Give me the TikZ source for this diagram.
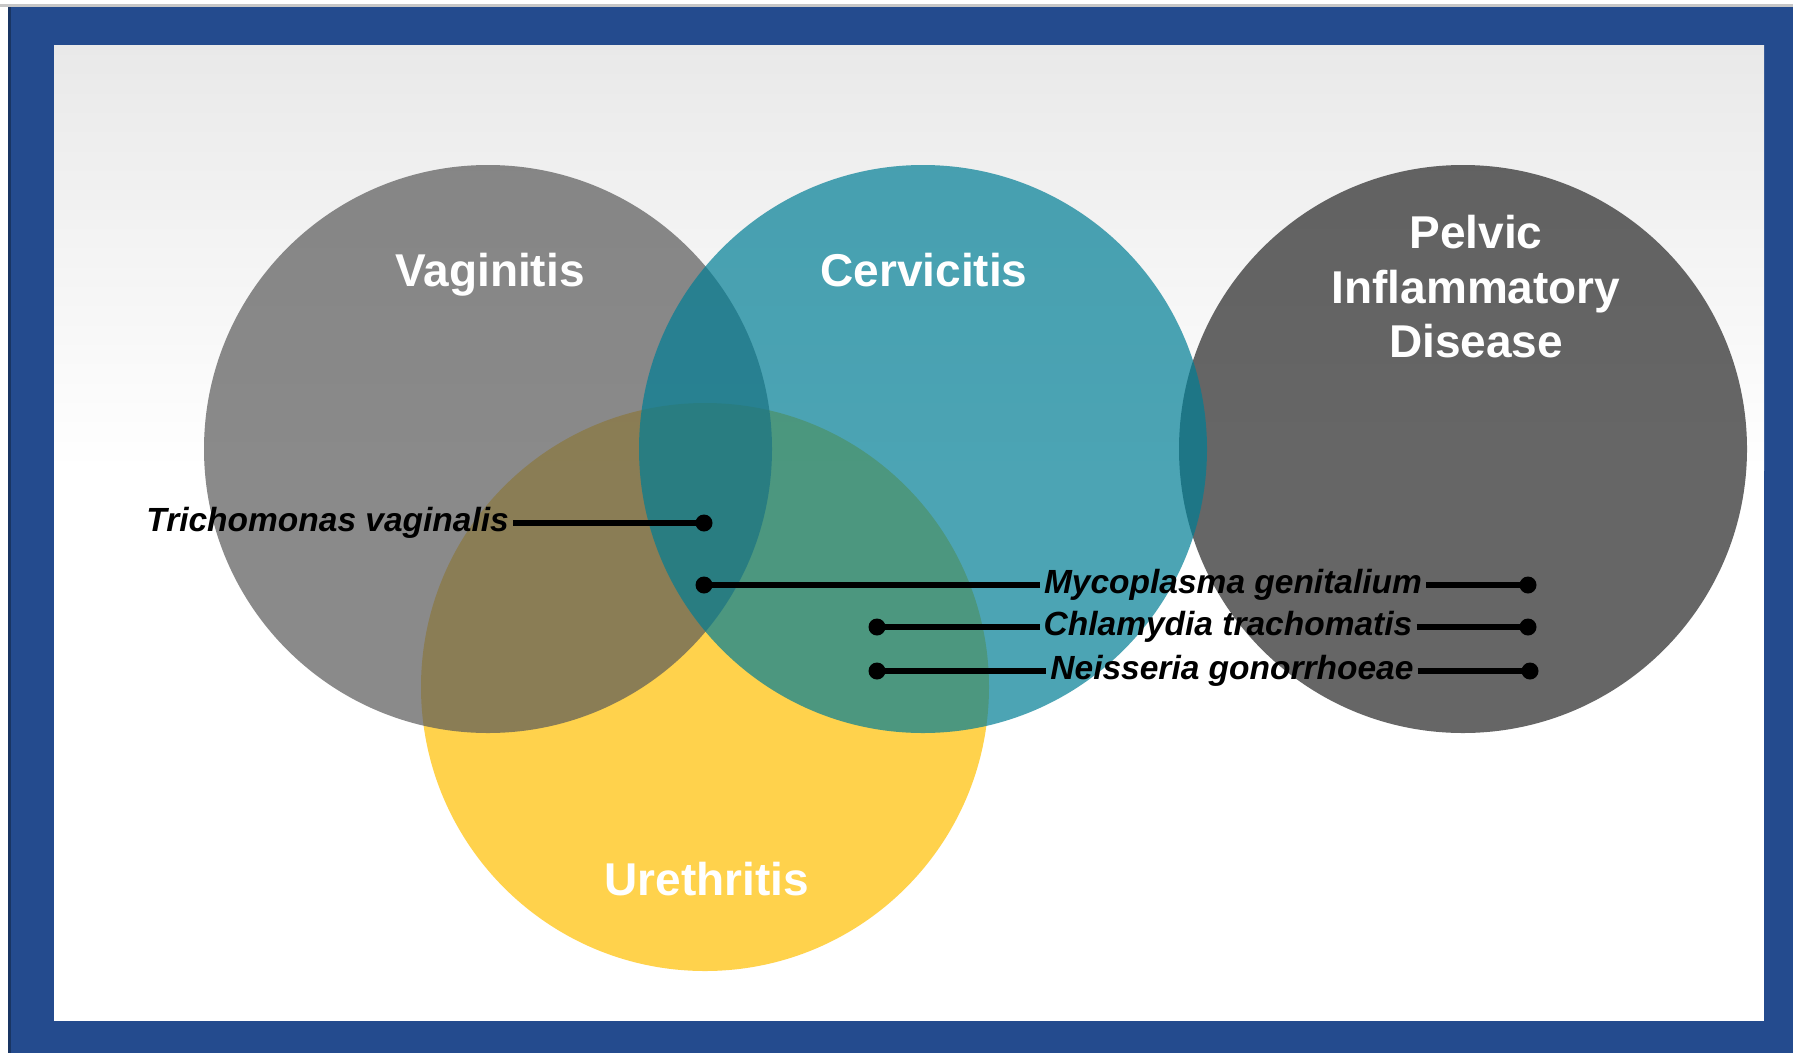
\documentclass[tikz,border=0pt]{standalone}
\usepackage{fontspec}
\setmainfont{Liberation Sans}
\usepackage{xcolor}
\usepackage{tikz}
\definecolor{frameblue}{HTML}{244B8E}
\definecolor{panelgray}{HTML}{E9E9E9}
\definecolor{urecol}{HTML}{FFC000}
\definecolor{vagcol}{HTML}{595959}
\definecolor{cercol}{HTML}{007E95}
\definecolor{pidcol}{HTML}{262626}

\begin{document}
\begin{tikzpicture}[
    x=1pt, y=-1pt,
    set/.style={circle, minimum size=568pt, inner sep=0pt, fill opacity=0.7},
    settitle/.style={text=white, align=center,
                     font=\bfseries\fontsize{46}{54.5}\selectfont},
    germ/.style={font=\bfseries\itshape\fontsize{33.5}{40}\selectfont,
                 inner sep=4pt, text height=24pt, text depth=7pt},
    germdot/.style={circle, fill=black, minimum size=17pt, inner sep=0pt},
    link/.style={line width=5.5pt},
]
  % frame and panel
  \useasboundingbox (0,0) rectangle (1793,1053);
  \fill[white] (0,0) rectangle (1793,1053);
  \fill[gray!45] (0,4) rectangle (1793,7);
  \fill[frameblue] (8,7) rectangle (1793,1053);
  \fill[frameblue!70!black] (8,7) rectangle (11,1053);
  \fill[white] (54,45) rectangle (1764,1021);
  \shade[top color=panelgray, bottom color=white] (54,45) rectangle (1764,470);

  % the four sets
  \node[set, fill=urecol] (ure) at (705,687) {};
  \node[set, fill=vagcol] (vag) at (488,449) {};
  \node[set, fill=pidcol] (pid) at (1463,449) {};
  \node[set, fill=cercol] (cer) at (923,449) {};

  \node[settitle, anchor=base] (tvag) at (490,286) {Vaginitis};
  \node[settitle, anchor=base] (tcer) at (924,286) {Cervicitis};
  \node[settitle, anchor=base] (ture) at (707,895) {Urethritis};
  \node[settitle] (tpid) at (1476,287) {Pelvic\\Inflammatory\\Disease};

  % organisms
  \node[germ, anchor=east] (tv) at (513,523) {Trichomonas vaginalis};
  \node[germ] (mg) at (1233,585) {Mycoplasma genitalium};
  \node[germ] (ct) at (1228,627) {Chlamydia trachomatis};
  \node[germ] (ng) at (1232,671) {Neisseria gonorrhoeae};

  \node[germdot] (tv1) at (704,523) {};
  \node[germdot] (mg1) at (704,585) {};
  \node[germdot] (mg2) at (1528,585) {};
  \node[germdot] (ct1) at (877,627) {};
  \node[germdot] (ct2) at (1528,627) {};
  \node[germdot] (ng1) at (877,671) {};
  \node[germdot] (ng2) at (1530,671) {};

  \draw[link] (tv.east) -- (tv1.center);
  \draw[link] (mg1.center) -- (mg.west);
  \draw[link] (mg.east) -- (mg2.center);
  \draw[link] (ct1.center) -- (ct.west);
  \draw[link] (ct.east) -- (ct2.center);
  \draw[link] (ng1.center) -- (ng.west);
  \draw[link] (ng.east) -- (ng2.center);
\end{tikzpicture}
\end{document}
